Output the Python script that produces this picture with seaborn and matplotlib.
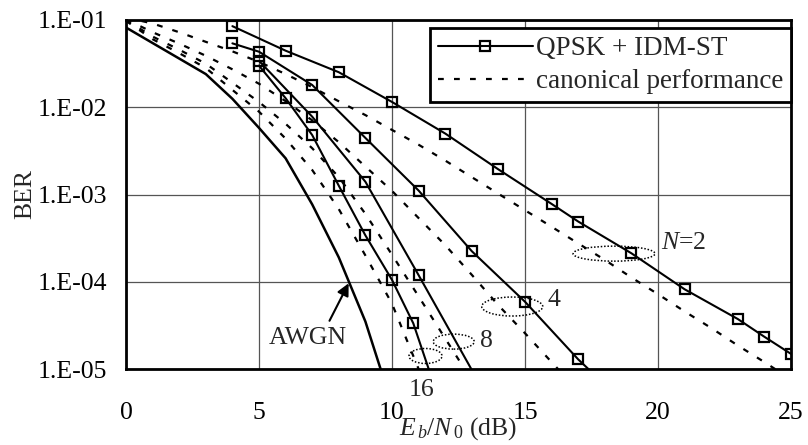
import numpy as np
import pandas as pd
import matplotlib
matplotlib.use("Agg")
import matplotlib.pyplot as plt
import seaborn as sns
from matplotlib.lines import Line2D
from matplotlib.patches import Ellipse
from matplotlib.transforms import ScaledTranslation

# ---------------- data ----------------
awgn_x = [0, 3, 4, 5, 6, 7, 8, 9, 10]
awgn_ber = [0.082, 0.024, 0.0125, 0.0058, 0.0026, 7.7e-4, 1.9e-4, 3.5e-5, 3.9e-6]

n2_x = [4, 6, 8, 10, 12, 14, 16, 17, 19, 21, 23, 24, 25]
n2_ber = [8.5e-2, 4.45e-2, 2.52e-2, 1.15e-2, 5.0e-3, 1.94e-3, 7.8e-4, 4.9e-4,
          2.12e-4, 8.2e-5, 3.74e-5, 2.34e-5, 1.49e-5]

n4_x = [4, 5, 7, 9, 11, 13, 15, 17, 19]
n4_ber = [5.4e-2, 4.33e-2, 1.8e-2, 4.45e-3, 1.11e-3, 2.24e-4, 5.9e-5, 1.29e-5, 3.4e-6]

n8_x = [5, 7, 9, 11, 15]
n8_ber = [3.4e-2, 7.8e-3, 1.40e-3, 1.19e-4, 8.0e-7]

n16_x = [5, 6, 7, 8, 9, 10, 10.8, 12]
n16_ber = [3.0e-2, 1.27e-2, 4.8e-3, 1.26e-3, 3.4e-4, 1.05e-4, 3.34e-5, 2.75e-6]

c2_x = list(range(0, 26))
c2_ber = [0.107, 0.0912, 0.0724, 0.0562, 0.0437, 0.0331, 0.0240, 0.0170, 0.0117,
          8.13e-3, 5.50e-3, 3.72e-3, 2.45e-3, 1.58e-3, 1.02e-3, 6.6e-4, 4.27e-4,
          2.75e-4, 1.78e-4, 1.12e-4, 7.2e-5, 4.57e-5, 2.95e-5, 1.86e-5, 1.20e-5, 7.6e-6]

c4_x = list(range(0, 18))
c4_ber = [0.102, 0.0724, 0.0537, 0.0389, 0.0272, 0.0186, 0.01175, 7.08e-3, 3.98e-3,
          2.09e-3, 1.10e-3, 5.37e-4, 2.63e-4, 1.20e-4, 5.37e-5, 2.57e-5, 1.20e-5, 5.6e-6]

c8_x = list(range(0, 14))
c8_ber = [0.100, 0.0646, 0.0457, 0.0316, 0.0191, 0.01148, 6.46e-3, 3.39e-3, 1.58e-3,
          6.0e-4, 2.04e-4, 6.8e-5, 2.24e-5, 7.4e-6]

c16_x = list(range(0, 12))
c16_ber = [0.0977, 0.0603, 0.0417, 0.0282, 0.0158, 8.9e-3, 4.37e-3, 1.91e-3, 6.8e-4,
           2.0e-4, 5.6e-5, 1.0e-5]

x_ticks = [0, 5, 10, 15, 20, 25]
y_ticks = [1e-5, 1e-4, 1e-3, 1e-2, 1e-1]
y_tick_labels = ["1.E-05", "1.E-04", "1.E-03", "1.E-02", "1.E-01"]
legend_labels = ["QPSK + IDM-ST", "canonical performance"]

# ---------------- style ----------------
sns.set_theme(style="white")
plt.rcParams["font.family"] = ["Liberation Serif", "DejaVu Serif"]
plt.rcParams["mathtext.fontset"] = "custom"
plt.rcParams["mathtext.rm"] = "Liberation Serif"
plt.rcParams["mathtext.it"] = "Liberation Serif:italic"
FS = 18.5

fig = plt.figure(figsize=(8.08, 4.45), dpi=100)
ax = fig.add_axes([126 / 808, 76 / 445, 665 / 808, 349 / 445])

solid_kw = dict(color="black", linewidth=1.5, marker="s", markersize=6.5,
                markerfacecolor="none", markeredgecolor="black", markeredgewidth=1.6)
dash_kw = dict(color="black", linewidth=1.6, linestyle=(0, (2.6, 4.6)))

for xs, ys in [(c2_x, c2_ber), (c4_x, c4_ber), (c8_x, c8_ber), (c16_x, c16_ber)]:
    df = pd.DataFrame({"x": xs, "ber": ys})
    sns.lineplot(data=df, x="x", y="ber", ax=ax, sort=False, **dash_kw)

df = pd.DataFrame({"x": awgn_x, "ber": awgn_ber})
sns.lineplot(data=df, x="x", y="ber", ax=ax, sort=False, color="black", linewidth=1.8)

for xs, ys in [(n2_x, n2_ber), (n4_x, n4_ber), (n8_x, n8_ber), (n16_x, n16_ber)]:
    df = pd.DataFrame({"x": xs, "ber": ys})
    sns.lineplot(data=df, x="x", y="ber", ax=ax, sort=False, **solid_kw)

ax.set_yscale("log")
ax.set_xlim(0, 25)
ax.set_ylim(1e-5, 1e-1)
ax.set_xticks(x_ticks)
ax.set_xticklabels([str(v) for v in x_ticks], fontsize=FS)
ax.set_yticks(y_ticks)
ax.set_yticklabels(y_tick_labels, fontsize=FS)
ax.yaxis.set_minor_locator(matplotlib.ticker.NullLocator())
ax.tick_params(axis="both", direction="inout", length=9, width=1.0, colors="black")
ax.tick_params(axis="x", pad=19)
ax.tick_params(axis="y", pad=9)
ax.grid(True, which="major", color="#555555", linewidth=0.9)
for s in ax.spines.values():
    s.set_visible(True)
    s.set_color("black")
    s.set_linewidth(2.0)

ax.set_xlabel(r"$E_{\,b}/N_{\,0}$ (dB)", fontsize=FS, labelpad=-6)
ax.set_ylabel("BER", fontsize=FS, labelpad=1)

handles = [Line2D([], [], **solid_kw), Line2D([], [], **dash_kw)]
leg = ax.legend(handles, legend_labels, loc="upper right", bbox_to_anchor=(1.0, 0.977),
                fontsize=19.5, frameon=True, fancybox=False, framealpha=1,
                edgecolor="black", borderpad=0.3, labelspacing=0.3,
                handlelength=3.5, handletextpad=0.1, borderaxespad=0.0)
leg.get_frame().set_linewidth(2.0)

# ---------------- annotations ----------------
def ellipse(x, y, w_px, h_px):
    tr = fig.dpi_scale_trans + ScaledTranslation(x, y, ax.transData)
    e = Ellipse((0, 0), w_px / 100, h_px / 100, transform=tr, fill=False,
                linestyle=(0, (1, 1.2)), linewidth=1.1, edgecolor="black")
    ax.add_patch(e)

ellipse(18.35, 2.1e-4, 82, 15)
ellipse(14.52, 5.2e-5, 61, 19)
ellipse(12.32, 2.06e-5, 41, 15)
ellipse(11.26, 1.41e-5, 33, 15)

ax.text(20.1, 2.78e-4, r"$N$=2", fontsize=FS, ha="left", va="center")
ax.text(16.1, 6.2e-5, "4", fontsize=FS, ha="center", va="center")
ax.text(13.55, 2.12e-5, "8", fontsize=FS, ha="center", va="center")
ax.text(11.12, 5.7e-6, "16", fontsize=FS, ha="center", va="center", clip_on=False)
ax.text(6.85, 2.26e-5, "AWGN", fontsize=FS, ha="center", va="center")
ax.annotate("", xy=(8.37, 9.6e-5), xytext=(7.65, 3.57e-5),
            arrowprops=dict(arrowstyle="-|>", color="black", lw=1.5, mutation_scale=18,
                            shrinkA=0, shrinkB=0))

fig.savefig("out.png", dpi=100)
